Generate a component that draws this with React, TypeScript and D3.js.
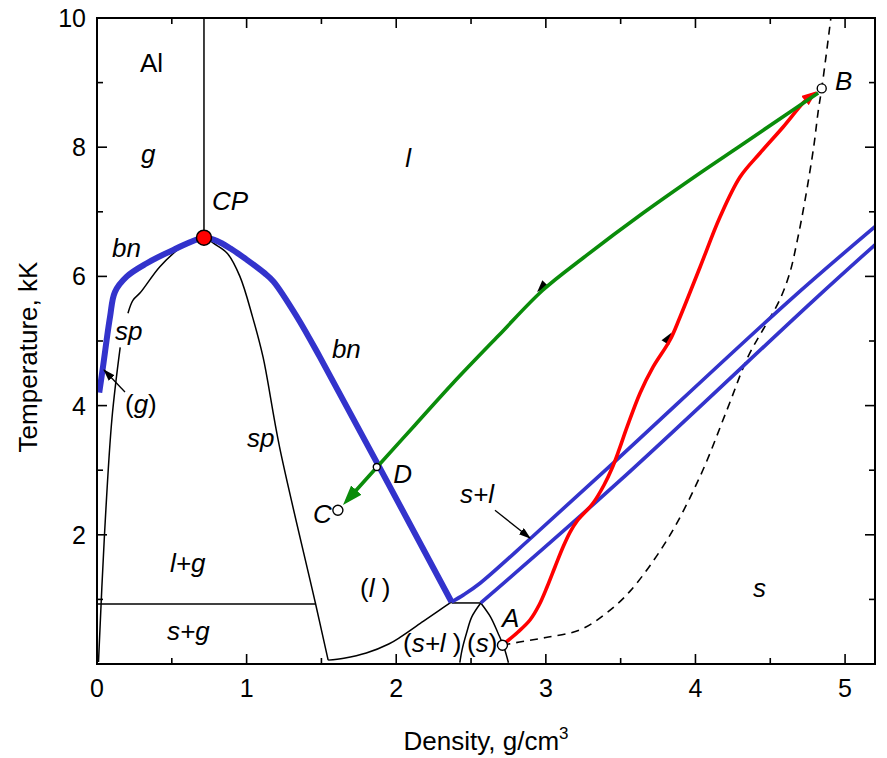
import React from 'react';
import * as d3 from 'd3';

type Pt = [number, number];

// ---------- axes ----------
const xDomain: [number, number] = [0, 5.2];
const yDomain: [number, number] = [0, 10];
const xMajorTicks = [0, 1, 2, 3, 4, 5];
const xMinorTicks = [0.5, 1.5, 2.5, 3.5, 4.5];
const yMajorTicks = [0, 2, 4, 6, 8, 10];
const yMinorTicks = [1, 3, 5, 7, 9];
const xTitle = 'Density, g/cm';
const xTitleSup = '3';
const yTitle = 'Temperature, kK';

// ---------- phase-diagram curves (density g/cm3, temperature kK) ----------
const binodal: Pt[] = [
  [0.015, 4.2], [0.04, 4.6], [0.087, 5.37], [0.12, 5.76], [0.2, 6.0], [0.33, 6.2],
  [0.51, 6.41], [0.715, 6.6], [0.8, 6.55], [0.9, 6.42], [1.0, 6.26], [1.12, 6.05],
  [1.18, 5.92], [1.335, 5.38], [1.49, 4.75], [2.37, 0.96],
];
const spinodalGas: Pt[] = [[0.01, 0.03], [0.05, 2.0], [0.1, 3.8], [0.155, 4.9]];
const spinodalMain: Pt[] = [
  [0.207, 5.43], [0.24, 5.63], [0.29, 5.75], [0.42, 6.15], [0.555, 6.44], [0.62, 6.53],
  [0.715, 6.6], [0.78, 6.51], [0.87, 6.36], [0.955, 6.0], [1.04, 5.37], [1.11, 4.75],
  [1.136, 4.44], [1.22, 3.36], [1.46, 0.94], [1.545, 0.06],
];
const cpVertical: Pt[] = [[0.715, 6.6], [0.715, 10]];
const sgBoundary: Pt[] = [[0, 0.93], [1.457, 0.93]];
const tripleLine: Pt[] = [[2.37, 0.945], [2.565, 0.945]];
const slBoundary: Pt[] = [
  [1.545, 0.06], [1.65, 0.09], [1.8, 0.17], [1.95, 0.31], [2.03, 0.42], [2.18, 0.66],
  [2.28, 0.82], [2.37, 0.96],
];
const sLeft: Pt[] = [[2.565, 0.945], [2.505, 0.73], [2.47, 0.48], [2.44, 0.22], [2.425, 0.02]];
const sRight: Pt[] = [[2.565, 0.945], [2.63, 0.73], [2.68, 0.48], [2.72, 0.26], [2.75, 0.02]];
const meltUpper: Pt[] = [
  [2.37, 0.96], [2.45, 1.07], [2.56, 1.25], [2.91, 1.97], [3.45, 3.11], [4.63, 5.63], [5.2, 6.77],
];
const meltLower: Pt[] = [[2.565, 0.945], [3.5, 2.85], [4.79, 5.63], [5.2, 6.49]];
const hugoniot: Pt[] = [
  [2.71, 0.29], [2.8, 0.33], [3.0, 0.41], [3.23, 0.53], [3.4, 0.78], [3.56, 1.12],
  [3.81, 1.92], [4.03, 2.9], [4.21, 3.93], [4.35, 4.75], [4.47, 5.25], [4.56, 5.62],
  [4.63, 6.05], [4.68, 6.55], [4.73, 7.15], [4.79, 8.0], [4.82, 8.55], [4.844, 8.91],
  [4.875, 9.45], [4.905, 10.0],
];
const heatingPath: Pt[] = [
  [2.727, 0.325], [2.814, 0.495], [2.894, 0.681], [2.955, 0.913], [3.008, 1.192],
  [3.061, 1.502], [3.115, 1.811], [3.162, 2.043], [3.209, 2.214], [3.316, 2.492],
  [3.389, 2.771], [3.443, 3.034], [3.489, 3.313], [3.543, 3.669], [3.63, 4.195],
  [3.717, 4.598], [3.83, 5.015], [3.897, 5.372], [4.031, 6.146], [4.164, 6.92],
  [4.298, 7.539], [4.432, 7.91], [4.586, 8.313], [4.719, 8.684], [4.779, 8.808],
];
const expansionPath: Pt[] = [
  [4.82, 8.839], [4.632, 8.545], [4.298, 8.019], [4.031, 7.601], [3.65, 6.981],
  [3.249, 6.285], [2.981, 5.789], [2.681, 5.077], [2.38, 4.35], [2.126, 3.7],
  [1.872, 3.05], [1.671, 2.531],
];
const criticalPoint: Pt = [0.715, 6.6];
const statePoints = [
  { name: 'A', at: [2.71, 0.29] as Pt, r: 5 },
  { name: 'B', at: [4.844, 8.91] as Pt, r: 4.5 },
  { name: 'C', at: [1.61, 2.38] as Pt, r: 5 },
  { name: 'D', at: [1.87, 3.05] as Pt, r: 3.5 },
];
// small black arrowheads sitting on the paths
const pathArrowMarks = [
  { path: 'green', xv: 2.98 },
  { path: 'red', xv: 3.83 },
];

// ---------- labels (segments: [text, italic]) ----------
type Seg = [string, boolean];
const labels: { segs: Seg[]; at: Pt }[] = [
  { segs: [['Al', false]], at: [0.287, 9.16] },
  { segs: [['g', true]], at: [0.294, 7.76] },
  { segs: [['CP', true]], at: [0.769, 7.03] },
  { segs: [['bn', true]], at: [0.1, 6.3] },
  { segs: [['sp', true]], at: [0.12, 5.02] },
  { segs: [['(', false], ['g', true], [')', false]], at: [0.187, 3.89] },
  { segs: [['l', true]], at: [2.06, 7.69] },
  { segs: [['bn', true]], at: [1.57, 4.74] },
  { segs: [['sp', true]], at: [1.003, 3.36] },
  { segs: [['D', true]], at: [1.98, 2.8] },
  { segs: [['C', true]], at: [1.444, 2.18] },
  { segs: [['s+l', true]], at: [2.426, 2.49] },
  { segs: [['l+g', true]], at: [0.488, 1.42] },
  { segs: [['(', false], ['l', true], [' )', false]], at: [1.758, 1.04] },
  { segs: [['s+g', true]], at: [0.468, 0.37] },
  { segs: [['(', false], ['s+l', true], [' )', false]], at: [2.045, 0.19] },
  { segs: [['(', false], ['s', true], [')', false]], at: [2.473, 0.19] },
  { segs: [['A', true]], at: [2.707, 0.57] },
  { segs: [['s', true]], at: [4.385, 1.04] },
  { segs: [['B', true]], at: [4.933, 8.89] },
];
const gArrow: Pt[] = [[0.187, 4.21], [0.047, 4.55]];
const slArrow: Pt[] = [[2.66, 2.38], [2.894, 1.95]];

const W = 887;
const H = 758;
const M = { left: 97, right: 875, top: 18, bottom: 664 };
const FONT = "'Liberation Sans', Arial, Helvetica, sans-serif";
const BLUE = '#3333CC';
const RED = '#FF0000';
const GREEN = '#0A8C0A';

export default function App() {
  const x = d3.scaleLinear().domain(xDomain).range([M.left, M.right]);
  const y = d3.scaleLinear().domain(yDomain).range([M.bottom, M.top]);
  const straight = d3.line<Pt>().x((d) => x(d[0])).y((d) => y(d[1]));
  const smooth = d3
    .line<Pt>()
    .x((d) => x(d[0]))
    .y((d) => y(d[1]))
    .curve(d3.curveCatmullRom.alpha(0.5));

  const markOn = (pts: Pt[], xv: number) => {
    for (let i = 0; i < pts.length - 1; i++) {
      const a = pts[i], b = pts[i + 1];
      const lo = Math.min(a[0], b[0]), hi = Math.max(a[0], b[0]);
      if (xv >= lo && xv <= hi) {
        const t = (xv - a[0]) / (b[0] - a[0]);
        const px = x(a[0]) + t * (x(b[0]) - x(a[0]));
        const py = y(a[1]) + t * (y(b[1]) - y(a[1]));
        const ang = (Math.atan2(y(b[1]) - y(a[1]), x(b[0]) - x(a[0])) * 180) / Math.PI;
        return { px, py, ang };
      }
    }
    return null;
  };

  const tickLen = 10;
  const minorLen = 6;

  return (
    <svg
      width={W}
      height={H}
      style={{ position: 'absolute', left: 0, top: 0, background: '#fff' }}
      fontFamily={FONT}
    >
      <defs>
        <clipPath id="plot">
          <rect x={M.left} y={M.top} width={M.right - M.left} height={M.bottom - M.top} />
        </clipPath>
        <marker id="arrGreen" markerUnits="userSpaceOnUse" markerWidth={22} markerHeight={16}
          refX={14} refY={7} orient="auto">
          <path d="M0,0 L20,7 L0,14 Z" fill={GREEN} />
        </marker>
        <marker id="arrRed" markerUnits="userSpaceOnUse" markerWidth={18} markerHeight={14}
          refX={9} refY={6} orient="auto">
          <path d="M0,0 L15,6 L0,12 Z" fill={RED} />
        </marker>
        <marker id="arrBlack" markerUnits="userSpaceOnUse" markerWidth={14} markerHeight={10}
          refX={11} refY={4} orient="auto">
          <path d="M0,0 L12,4 L0,8 Z" fill="#000" />
        </marker>
      </defs>
      <rect x={0} y={0} width={W} height={H} fill="#fff" />

      <g clipPath="url(#plot)" fill="none" strokeLinejoin="round">
        {/* thin black boundaries */}
        <path d={straight(cpVertical)!} stroke="#000" strokeWidth={1.5} />
        <path d={straight(sgBoundary)!} stroke="#000" strokeWidth={1.5} />
        <path d={straight(tripleLine)!} stroke="#000" strokeWidth={1.5} />
        <path d={smooth(spinodalGas)!} stroke="#000" strokeWidth={1.5} />
        <path d={smooth(spinodalMain)!} stroke="#000" strokeWidth={1.5} />
        <path d={smooth(slBoundary)!} stroke="#000" strokeWidth={1.5} />
        <path d={smooth(sLeft)!} stroke="#000" strokeWidth={1.5} />
        <path d={smooth(sRight)!} stroke="#000" strokeWidth={1.5} />
        {/* Hugoniot */}
        <path d={smooth(hugoniot)!} stroke="#000" strokeWidth={1.6} strokeDasharray="8,6" />
        {/* melting band */}
        <path d={smooth(meltUpper)!} stroke={BLUE} strokeWidth={3.6} />
        <path d={smooth(meltLower)!} stroke={BLUE} strokeWidth={3.6} />
        {/* binodal */}
        <path d={smooth(binodal)!} stroke={BLUE} strokeWidth={6} />
        {/* small black arrowheads under the paths */}
        {pathArrowMarks.map((m, i) => {
          const p = markOn(m.path === 'green' ? expansionPath : heatingPath, m.xv);
          if (!p) return null;
          return (
            <path key={i} d="M6,0 L-6,-4.5 L-6,4.5 Z" fill="#000" stroke="none"
              transform={`translate(${p.px - 1.5},${p.py - 2.5}) rotate(${p.ang})`} />
          );
        })}
        {/* heating A->B and expansion B->C */}
        <path d={smooth(heatingPath)!} stroke={RED} strokeWidth={3.6} markerEnd="url(#arrRed)" />
        <path d={smooth(expansionPath)!} stroke={GREEN} strokeWidth={3.6} markerEnd="url(#arrGreen)" />
      </g>

      {/* annotation arrows */}
      <path d={straight(gArrow)!} stroke="#000" strokeWidth={1.3} fill="none" markerEnd="url(#arrBlack)" />
      <path d={straight(slArrow)!} stroke="#000" strokeWidth={1.3} fill="none" markerEnd="url(#arrBlack)" />

      {/* state points */}
      {statePoints.map((p) => (
        <circle key={p.name} cx={x(p.at[0])} cy={y(p.at[1])} r={p.r} fill="#fff" stroke="#000" strokeWidth={1.4} />
      ))}
      <circle cx={x(criticalPoint[0])} cy={y(criticalPoint[1])} r={7.5} fill={RED} stroke="#000" strokeWidth={1.5} />

      {/* region labels */}
      {labels.map((l, i) => (
        <text key={i} x={x(l.at[0])} y={y(l.at[1])} fontSize={26} fill="#000" style={{ whiteSpace: 'pre' }}>
          {l.segs.map((s, j) => (
            <tspan key={j} fontStyle={s[1] ? 'italic' : 'normal'}>{s[0]}</tspan>
          ))}
        </text>
      ))}

      {/* frame */}
      <rect x={M.left} y={M.top} width={M.right - M.left} height={M.bottom - M.top}
        fill="none" stroke="#000" strokeWidth={2} />

      {/* ticks */}
      <g stroke="#000" strokeWidth={1.6}>
        {xMajorTicks.map((t) => (
          <g key={'xm' + t}>
            <line x1={x(t)} x2={x(t)} y1={M.bottom} y2={M.bottom - tickLen} />
            <line x1={x(t)} x2={x(t)} y1={M.top} y2={M.top + tickLen} />
          </g>
        ))}
        {xMinorTicks.map((t) => (
          <g key={'xn' + t}>
            <line x1={x(t)} x2={x(t)} y1={M.bottom} y2={M.bottom - minorLen} />
            <line x1={x(t)} x2={x(t)} y1={M.top} y2={M.top + minorLen} />
          </g>
        ))}
        {yMajorTicks.map((t) => (
          <g key={'ym' + t}>
            <line y1={y(t)} y2={y(t)} x1={M.left} x2={M.left + tickLen} />
            <line y1={y(t)} y2={y(t)} x1={M.right} x2={M.right - tickLen} />
          </g>
        ))}
        {yMinorTicks.map((t) => (
          <g key={'yn' + t}>
            <line y1={y(t)} y2={y(t)} x1={M.left} x2={M.left + minorLen} />
            <line y1={y(t)} y2={y(t)} x1={M.right} x2={M.right - minorLen} />
          </g>
        ))}
      </g>

      {/* tick labels */}
      {xMajorTicks.map((t) => (
        <text key={'xl' + t} x={x(t)} y={697} fontSize={25} textAnchor="middle">{t}</text>
      ))}
      {yMajorTicks.filter((t) => t > 0).map((t) => (
        <text key={'yl' + t} x={86} y={y(t) + 9} fontSize={25} textAnchor="end">{t}</text>
      ))}

      {/* axis titles */}
      <text x={486} y={750} fontSize={26} textAnchor="middle">
        <tspan>{xTitle}</tspan>
        <tspan dy={-11} fontSize={17}>{xTitleSup}</tspan>
      </text>
      <text transform="translate(37,357) rotate(-90)" fontSize={26} textAnchor="middle">{yTitle}</text>
    </svg>
  );
}
